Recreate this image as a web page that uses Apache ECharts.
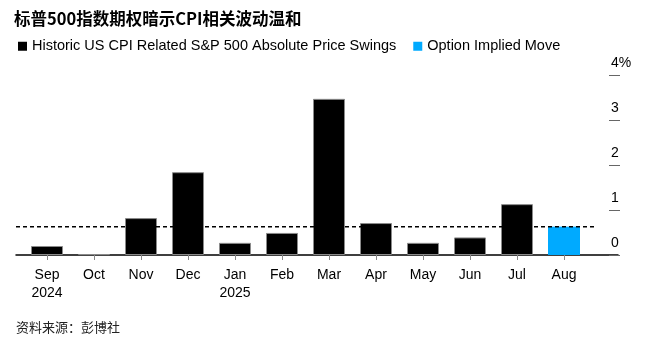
<!DOCTYPE html>
<html><head><meta charset="utf-8">
<script src="https://cdn.jsdelivr.net/npm/echarts@6/dist/echarts.min.js"></script>
<style>html,body{margin:0;padding:0;background:#fff}#c{width:647px;height:351px}</style>
</head><body><div id="c"></div>
<script>
const categories = ['Sep\n2024','Oct','Nov','Dec','Jan\n2025','Feb','Mar','Apr','May','Jun','Jul','Aug'];
const historicSwings = [0.20, 0.02, 0.82, 1.84, 0.27, 0.49, 3.47, 0.71, 0.27, 0.39, 1.13, null];
const impliedMove = [null, null, null, null, null, null, null, null, null, null, null, 0.63];
const impliedLevel = 0.63;
const yTicks = [0, 1, 2, 3, 4];

const FONT = '"Liberation Sans", Arial, "Noto Sans CJK SC", sans-serif';
const chart = echarts.init(document.getElementById('c'), null, {renderer: 'canvas'});
chart.setOption({
  animation: false,
  backgroundColor: '#fff',
  textStyle: {fontFamily: FONT},
  title: [
    {text: '标普500指数期权暗示CPI相关波动温和', left: 14, top: 10, padding: 0,
     textStyle: {fontFamily: '"Noto Sans CJK SC", sans-serif', fontSize: 16.5, fontWeight: 'bold', color: '#000'}},
    {text: '资料来源：彭博社', left: 16, top: 321, padding: 0,
     textStyle: {fontFamily: '"Noto Sans CJK SC", sans-serif', fontSize: 13, fontWeight: 'normal', color: '#222'}}
  ],
  legend: {
    left: 13, top: 34, icon: 'rect', itemWidth: 9, itemHeight: 9, itemGap: 17,
    itemStyle: {borderWidth: 0},
    textStyle: {fontFamily: FONT, fontSize: 14.5, color: '#000'},
    data: ['Historic US CPI Related S&P 500 Absolute Price Swings', 'Option Implied Move']
  },
  grid: [
    {left: 23.5, right: 59.5, top: 75, bottom: 96},
    {left: 16, right: 29, top: 75, bottom: 96},
    {left: 16, right: 52, top: 75, bottom: 96}
  ],
  xAxis: [
    {type: 'category', gridIndex: 0, data: categories,
     axisLine: {show: false},
     axisTick: {show: true, alignWithLabel: true, length: 5, lineStyle: {color: '#888', width: 1}},
     axisLabel: {margin: 11, fontSize: 14, lineHeight: 18, color: '#000', fontFamily: FONT, interval: 0}},
    {type: 'value', gridIndex: 1, min: 0, max: 1, axisLine: {show: true, onZero: false, lineStyle: {color: '#000', width: 1.5}},
     axisTick: {show: false}, axisLabel: {show: false}, splitLine: {show: false}},
    {type: 'value', gridIndex: 2, min: 0, max: 1, show: false}
  ],
  yAxis: [
    {type: 'value', gridIndex: 0, position: 'right', offset: 21.5, min: 0, max: 4, interval: 1,
     axisLine: {show: false},
     axisTick: {show: true, length: 11, lineStyle: {color: '#666', width: 1}},
     splitLine: {show: false},
     axisLabel: {margin: 2, align: 'left', verticalAlign: 'bottom', padding: [0, 0, 5, 0],
       fontSize: 14, color: '#000', fontFamily: FONT,
       formatter: v => (v === yTicks[yTicks.length - 1] ? v + '%' : String(v))}},
    {type: 'value', gridIndex: 1, min: 0, max: 4, show: false},
    {type: 'value', gridIndex: 2, min: 0, max: 4, show: false}
  ],
  series: [
    {name: 'Historic US CPI Related S&P 500 Absolute Price Swings', type: 'bar', xAxisIndex: 0, yAxisIndex: 0,
     data: historicSwings, barWidth: 32, barGap: '-100%',
     itemStyle: {color: '#000', borderColor: '#8a8a8a', borderWidth: 1}},
    {name: 'Option Implied Move', type: 'bar', xAxisIndex: 0, yAxisIndex: 0,
     data: impliedMove, barWidth: 32, barGap: '-100%',
     itemStyle: {color: '#00AAFF'}},
    {type: 'line', xAxisIndex: 2, yAxisIndex: 2, symbol: 'none', silent: true,
     data: [[0, impliedLevel], [1, impliedLevel]],
     lineStyle: {color: '#000', width: 1.5, type: [4, 3]}, z: 5}
  ]
});
</script></body></html>
